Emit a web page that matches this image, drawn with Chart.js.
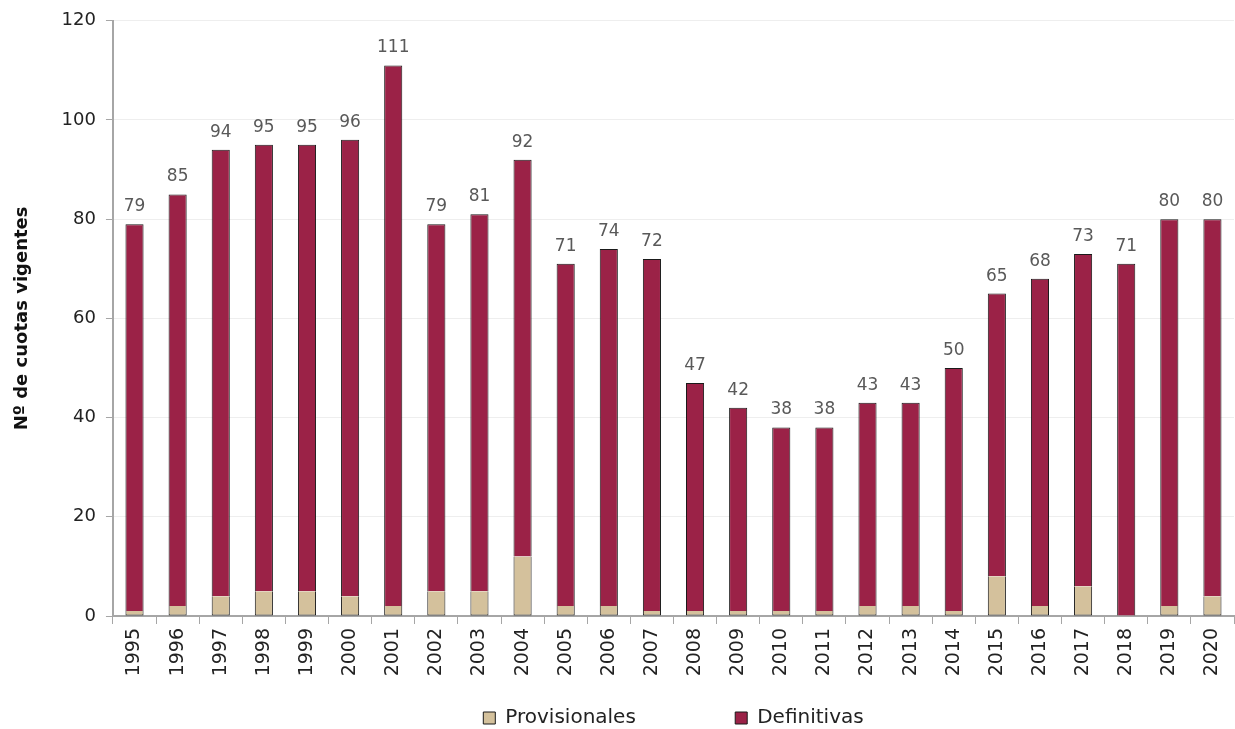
<!DOCTYPE html>
<html>
<head>
<meta charset="utf-8">
<script src="https://cdn.jsdelivr.net/npm/chart.js@4/dist/chart.umd.min.js"></script>
<style>
    html, body { margin: 0; padding: 0; background: #fff; }
    #wrap { width: 1235px; height: 729px; position: relative; }
</style>
</head>
<body>
<div id="wrap"><canvas id="cuotasChart"></canvas></div>
<script>
// data
const years = ['1995', '1996', '1997', '1998', '1999', '2000', '2001', '2002', '2003', '2004', '2005', '2006', '2007',
    '2008', '2009', '2010', '2011', '2012', '2013', '2014', '2015', '2016', '2017', '2018', '2019', '2020'];
const totals = [79, 85, 94, 95, 95, 96, 111, 79, 81, 92, 71, 74, 72, 47, 42, 38, 38, 43, 43, 50, 65, 68, 73, 71, 80, 80];
const provisionales = [1, 2, 4, 5, 5, 4, 2, 5, 5, 12, 2, 2, 1, 1, 1, 1, 1, 2, 2, 1, 8, 2, 6, 0, 2, 4];
const definitivas = totals.map((t, i) => t - provisionales[i]);
const yTicks = [0, 20, 40, 60, 80, 100, 120];

const FONT = "'DejaVu Sans', sans-serif";

// totals above each stack
const totalLabels = {
    id: 'totalLabels',
    afterDatasetsDraw(chart) {
        const ctx = chart.ctx;
        const meta = chart.getDatasetMeta(1);
        ctx.save();
        ctx.font = "17px " + FONT;
        ctx.fillStyle = '#595959';
        ctx.textAlign = 'center';
        ctx.textBaseline = 'bottom';
        meta.data.forEach((bar, i) => {
            ctx.fillText(String(totals[i]), bar.x, bar.y - 9);
        });
        ctx.restore();
    }
};

new Chart(document.getElementById('cuotasChart').getContext('2d'), {
    type: 'bar',
    data: {
        labels: years,
        datasets: [
            {
                // trailing spaces widen the gap between the two legend items
                label: 'Provisionales' + '\u00a0'.repeat(15),
                data: provisionales,
                backgroundColor: '#D4C19C',
                borderColor: '#1a1a1a',
                borderWidth: 1,
                borderSkipped: 'top',
                barPercentage: 0.84,
                categoryPercentage: 0.5
            },
            {
                label: 'Definitivas',
                data: definitivas,
                backgroundColor: '#9B2247',
                borderColor: '#1a1a1a',
                borderWidth: 1,
                borderSkipped: 'bottom',
                barPercentage: 0.84,
                categoryPercentage: 0.5
            }
        ]
    },
    options: {
        responsive: true, maintainAspectRatio: false,
        animation: false,
        layout: { padding: { top: 12, right: 1, left: 8, bottom: -9 } },
        plugins: {
            legend: {
                position: 'bottom',
                fullSize: false,
                labels: { boxWidth: 12, boxHeight: 12, padding: 4, color: '#222', font: { family: FONT, size: 20 } }
            },
            tooltip: { enabled: false }
        },
        scales: {
            x: {
                stacked: true,
                afterFit: (axis) => { axis.height = 88; axis.paddingRight = 0; axis.paddingLeft = 0; },
                grid: { display: true, drawOnChartArea: false, drawTicks: true, tickLength: 8, color: '#a6a6a6' },
                border: { color: '#a6a6a6', width: 2 },
                ticks: { color: '#222', minRotation: 90, maxRotation: 90, padding: 4, font: { family: FONT, size: 19 } }
            },
            y: {
                stacked: true,
                min: 0, max: 120,
                afterBuildTicks: (axis) => { axis.ticks = yTicks.map(v => ({ value: v })); },
                grid: { color: '#eeeeee', tickLength: 7, tickColor: '#a6a6a6' },
                border: { color: '#a6a6a6', width: 2 },
                ticks: { color: '#222', padding: 10, font: { family: FONT, size: 18 } },
                title: {
                    display: true,
                    text: 'Nº de cuotas vigentes',
                    color: '#111',
                    font: { family: FONT, size: 18, weight: 'bold' },
                    padding: { bottom: 18 }
                }
            }
        }
    },
    plugins: [totalLabels]
});
</script>
</body>
</html>
